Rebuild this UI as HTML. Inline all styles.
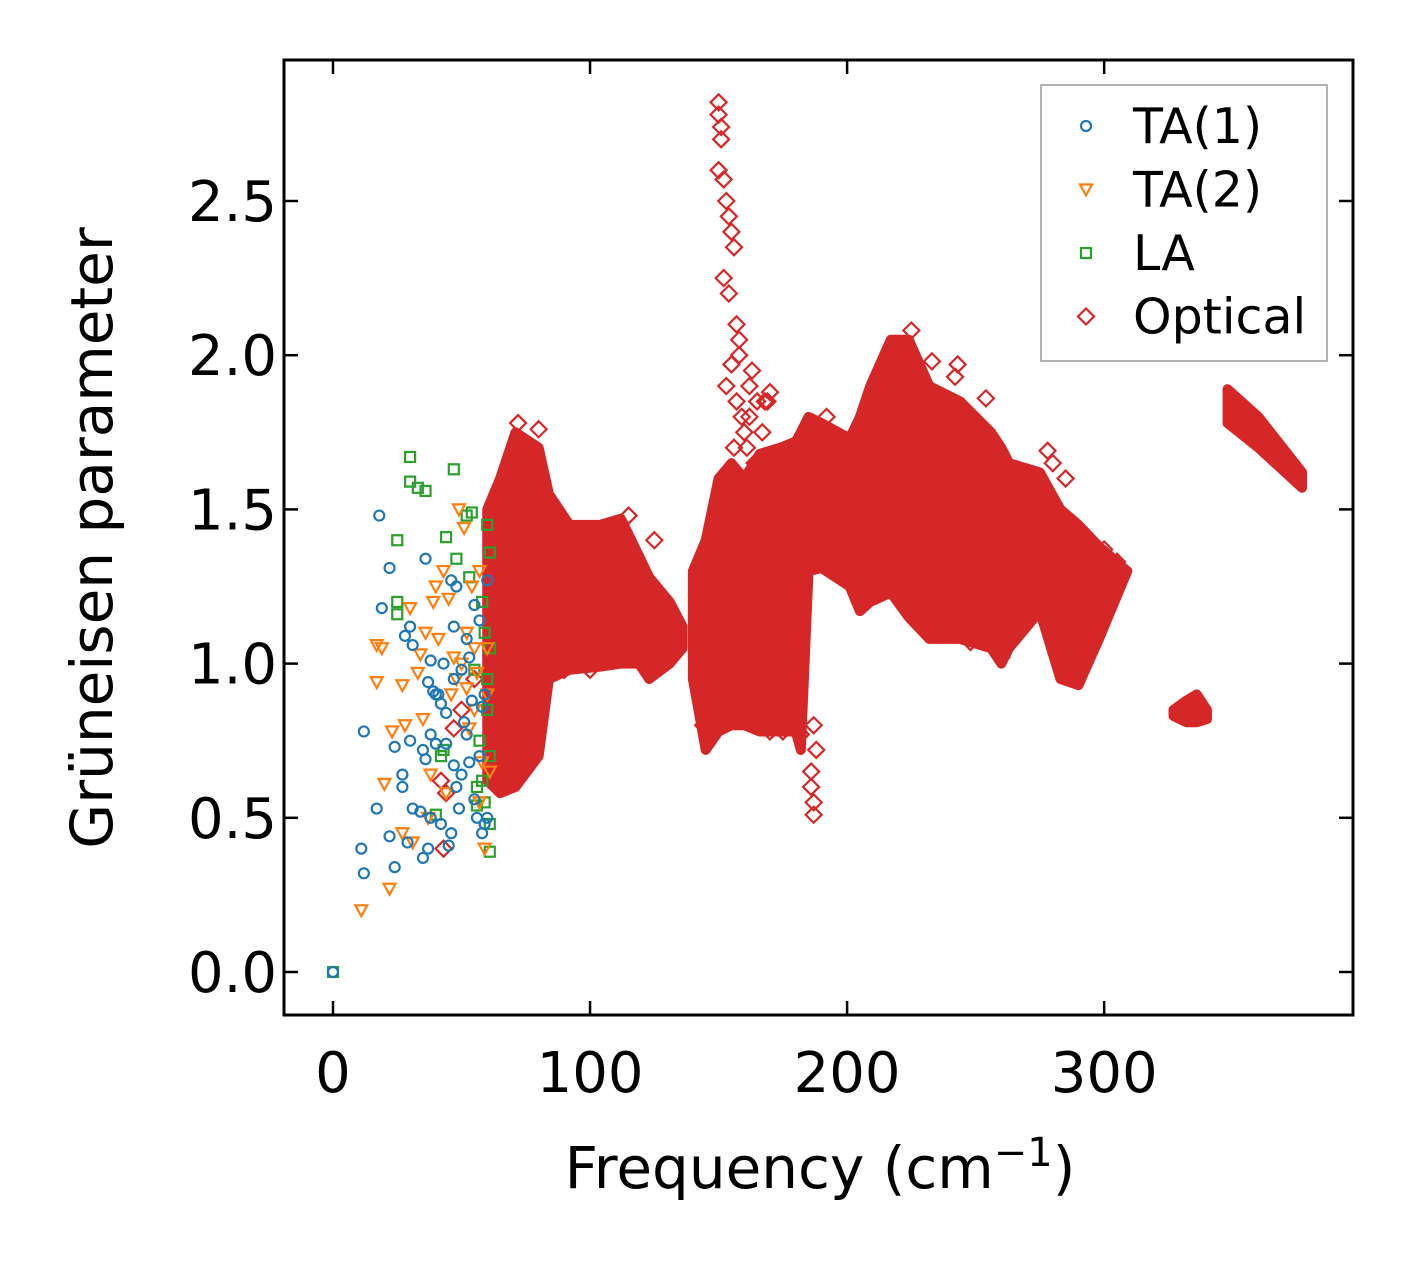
<!DOCTYPE html>
<html><head><meta charset="utf-8"><style>
html,body{margin:0;padding:0;background:#fff}
svg{display:block}
text{font-family:"DejaVu Sans","Liberation Sans",sans-serif;fill:#000}
</style></head><body>
<svg id="chart" width="1413" height="1264" viewBox="0 0 1413 1264" xmlns="http://www.w3.org/2000/svg">
<g id="marks"></g>
<rect x="284" y="60" width="1069" height="955" fill="none" stroke="#000" stroke-width="3"/>
<g id="axes"></g>
<text x="820" y="1188" font-size="58" text-anchor="middle">Frequency (cm<tspan font-size="40" dy="-22">−1</tspan><tspan dy="22">)</tspan></text>
<text transform="translate(112,538) rotate(-90)" font-size="58" text-anchor="middle">Grüneisen parameter</text>
<g>
<rect x="1041" y="85" width="286" height="276" fill="#fff" stroke="#999" stroke-width="1.5"/>
<g id="legend-items"></g>
</g>
</svg>
<script>
const ta1X=[0,11,12,12,17,18,19,22,22,24,24,27,27,28,29,30,30,31,31,34,35,35,36,36,37,37,38,38,38,39,40,40,41,42,42,43,44,44,45,46,46,47,47,48,48,49,50,50,51,52,53,53,54,55,55,56,57,58,58,59,60,59,57,60,52,47];
const ta1Y=[0,0.4,0.32,0.78,0.53,1.48,1.18,1.31,0.44,0.73,0.34,0.64,0.6,1.09,0.42,1.12,0.75,1.06,0.53,0.52,0.72,0.37,0.69,1.34,0.94,0.4,1.01,0.77,0.5,0.91,0.74,0.9,0.9,0.87,0.48,1.0,0.84,0.74,0.41,1.27,0.45,0.95,0.67,1.25,0.6,0.53,0.98,0.64,0.81,0.77,1.02,0.68,0.88,1.19,0.56,0.5,0.7,0.86,0.45,0.48,0.5,0.9,1.14,1.27,1.08,1.12];
const ta2X=[11,17,17,19,20,22,23,27,27,28,30,31,33,34,35,36,37,38,39,40,41,43,44,45,46,47,48,49,50,51,52,53,54,55,56,57,58,59,60,61,60,57,55,52];
const ta2Y=[0.2,0.94,1.06,1.05,0.61,0.27,0.78,0.93,0.45,0.8,1.18,0.42,0.97,1.03,0.82,1.1,0.5,0.64,1.2,1.25,1.08,1.3,0.58,1.21,0.9,1.02,0.95,1.5,1.0,1.44,1.1,0.79,1.25,0.85,0.97,1.3,0.68,0.4,0.9,0.65,1.05,0.55,1.05,0.92];
const laX=[0,25,25,25,30,30,33,36,40,42,43,44,47,48,52,53,54,55,56,56,57,58,59,60,60,60,61,61,61,59,58,61,61];
const laY=[0,1.4,1.2,1.16,1.67,1.59,1.57,1.56,0.51,0.7,0.72,1.41,1.63,1.34,1.48,1.28,1.49,0.98,0.6,0.54,0.75,1.2,1.1,0.95,0.85,1.45,1.36,0.39,0.48,0.55,0.62,1.05,0.7];
const optX=[42,43,44,47,50,62,55,150,150,151,151,150,152,153,154,155,156,152,154,157,158,155,153,157,159,160,161,162,163,165,167,169,186,186,187,187,188,187,168,170,172,176,178,182,
170,168,243,242,254,278,280,192,225,233,195,205,255,260,248,167,175,145,144,176,160,115,108,125,90,100,80,72,64,67,300,305,290,285,158,162,156,164];
const optY=[0.62,0.4,0.58,0.79,0.85,0.75,0.95,2.82,2.78,2.74,2.7,2.6,2.57,2.5,2.45,2.4,2.35,2.25,2.2,2.1,2.05,1.97,1.9,1.85,1.8,1.75,1.7,1.8,1.95,1.85,1.75,1.85,0.65,0.6,0.55,0.51,0.72,0.8,0.8,0.78,0.8,0.79,0.8,0.77,
1.88,1.85,1.97,1.93,1.86,1.69,1.65,1.8,2.08,1.98,1.36,1.2,1.07,1.02,1.07,0.82,0.78,0.88,0.8,0.95,0.85,1.48,1.44,1.4,0.98,0.98,1.76,1.78,0.6,1.6,1.37,1.33,0.97,1.6,2.0,1.9,1.7,1.65];
// envelope blobs: frequency, lower and upper Grüneisen values
const blob1X=[60,65,71,80,84,92,104,112,119,123,131,136];
const blob1Lo=[0.62,0.58,0.6,0.7,0.95,0.98,0.99,1.0,1.0,0.95,1.0,1.05];
const blob1Hi=[1.5,1.6,1.75,1.7,1.55,1.45,1.45,1.47,1.35,1.28,1.2,1.12];
const blob2X=[140,145,150,155,160,166,174,180,182,185,190,201,205,209,217,224,232,244,256,260,263,275,283,290,298,309];
const blob2Lo=[0.95,0.72,0.78,0.8,0.8,0.78,0.78,0.78,0.72,1.3,1.31,1.25,1.17,1.2,1.23,1.15,1.08,1.08,1.05,1.0,1.05,1.17,0.95,0.93,1.08,1.3];
const blob2Hi=[1.3,1.4,1.6,1.65,1.6,1.68,1.7,1.72,1.75,1.8,1.78,1.73,1.8,1.9,2.05,2.05,1.9,1.85,1.75,1.7,1.65,1.62,1.5,1.45,1.38,1.3];
const blob3X=[327,332,336,340];
const blob3Lo=[0.83,0.81,0.81,0.82];
const blob3Hi=[0.85,0.88,0.9,0.85];
const blob4X=[348,360,377];
const blob4Lo=[1.78,1.7,1.57];
const blob4Hi=[1.89,1.8,1.62];
const xTicks=[0,100,200,300];
const xTickLabels=["0","100","200","300"];
const yTicks=[0,0.5,1.0,1.5,2.0,2.5];
const yTickLabels=["0.0","0.5","1.0","1.5","2.0","2.5"];
const legendLabels=["TA(1)","TA(2)","LA","Optical"];

const NS="http://www.w3.org/2000/svg";
const xs=v=>333+v*2.5705;
const ys=v=>972-v*308.4;
const C1="#1f77b4",C2="#ff7f0e",C3="#2ca02c",C4="#d62728";
const marks=document.getElementById('marks');
const axes=document.getElementById('axes');
function mk(tag,attrs,parent){const e=document.createElementNS(NS,tag);for(const k in attrs)e.setAttribute(k,attrs[k]);parent.appendChild(e);return e;}
function circle(x,y,p,name){const e=mk('circle',{cx:x,cy:y,r:5,fill:'none',stroke:C1,'stroke-width':2.2},p);

}
function tri(x,y,p,name){const e=mk('path',{d:`M${x-6},${y-5}L${x+6},${y-5}L${x},${y+6}Z`,fill:'none',stroke:C2,'stroke-width':2.2},p);

}
function sq(x,y,p,name){const e=mk('rect',{x:x-5,y:y-5,width:10,height:10,fill:'none',stroke:C3,'stroke-width':2.2},p);

}
function dia(x,y,p,name){const e=mk('path',{d:`M${x},${y-8}L${x+8},${y}L${x},${y+8}L${x-8},${y}Z`,fill:'none',stroke:C4,'stroke-width':2.2},p);

}
function blob(X,Lo,Hi,name){
  let d='M'+X.map((x,i)=>xs(x)+','+ys(Hi[i])).join('L');
  for(let i=X.length-1;i>=0;i--)d+='L'+xs(X[i])+','+ys(Lo[i]);
  const e=mk('path',{d:d+'Z',fill:C4,stroke:C4,'stroke-width':10,'stroke-linejoin':'round'},marks);
  
  
}
blob(blob1X,blob1Lo,blob1Hi,'optical-cluster-1');
blob(blob2X,blob2Lo,blob2Hi,'optical-cluster-2');
blob(blob3X,blob3Lo,blob3Hi,'optical-cluster-3');
blob(blob4X,blob4Lo,blob4Hi,'optical-cluster-4');
optX.forEach((x,i)=>dia(xs(x),ys(optY[i]),marks,'optical-point'));
laX.forEach((x,i)=>sq(xs(x),ys(laY[i]),marks,'la-point'));
ta2X.forEach((x,i)=>tri(xs(x),ys(ta2Y[i]),marks,'ta2-point'));
ta1X.forEach((x,i)=>circle(xs(x),ys(ta1Y[i]),marks,'ta1-point'));

xTicks.forEach((t,i)=>{const x=xs(t);
 mk('line',{x1:x,x2:x,y1:1015,y2:1001,stroke:'#000','stroke-width':2.5},axes);
 mk('line',{x1:x,x2:x,y1:60,y2:74,stroke:'#000','stroke-width':2.5},axes);
 const e=mk('text',{x:x,y:1092,'font-size':56,'text-anchor':'middle'},axes);e.textContent=xTickLabels[i];
 
 });
yTicks.forEach((t,i)=>{const y=ys(t);
 mk('line',{x1:284,x2:298,y1:y,y2:y,stroke:'#000','stroke-width':2.5},axes);
 mk('line',{x1:1353,x2:1339,y1:y,y2:y,stroke:'#000','stroke-width':2.5},axes);
 const e=mk('text',{x:277,y:y+20,'font-size':56,'text-anchor':'end'},axes);e.textContent=yTickLabels[i];
 
 });

const li=document.getElementById('legend-items');
const fns=[circle,tri,sq,dia];
legendLabels.forEach((l,i)=>{const y=126+i*63.5;
 fns[i](1086,y,li,'legend-marker');
 const e=mk('text',{x:1133,y:y+17,'font-size':49},li);e.textContent=l;
 
 });
</script>
</body></html>
